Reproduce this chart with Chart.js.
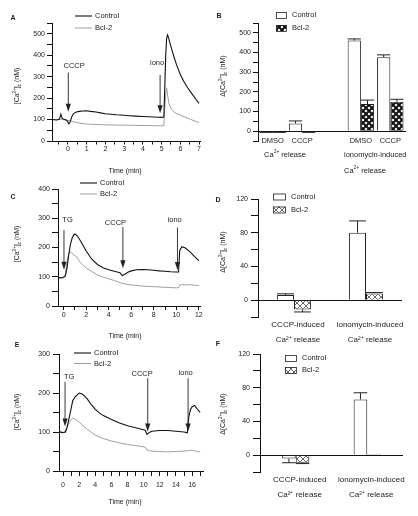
<!DOCTYPE html>
<html lang="en">
<head>
<meta charset="UTF-8">
<title>Ca2+ release, Control vs Bcl-2</title>
<script src="https://cdn.jsdelivr.net/npm/chart.js"></script>
<style>
  body { margin: 0; background: #fff; }
  canvas { position: absolute; left: 0; top: 0; }
</style>
</head>
<body>
<canvas id="cA" width="418" height="516"></canvas>
<canvas id="cB" width="418" height="516"></canvas>
<canvas id="cC" width="418" height="516"></canvas>
<canvas id="cD" width="418" height="516"></canvas>
<canvas id="cE" width="418" height="516"></canvas>
<canvas id="cF" width="418" height="516"></canvas>
<script>
// ---- data ----
// A: CCCP then ionomycin
var timeA = [-0.85, -0.6, -0.45, -0.38, -0.3, -0.2, -0.05, 0.05, 0.12, 0.2, 0.3, 0.45, 0.6, 0.8, 1.0, 1.2, 1.5, 1.8, 2.0, 2.3, 2.6, 3.0, 3.3, 3.6, 4.0, 4.3, 4.6, 4.8, 5.0, 5.12, 5.17, 5.22, 5.27, 5.32, 5.38, 5.45, 5.55, 5.65, 5.8, 6.0, 6.2, 6.4, 6.6, 6.8, 7.0];
var controlA = [100, 98, 102, 125, 104, 101, 96, 80, 90, 112, 128, 135, 138, 140, 141, 138, 135, 130, 127, 125, 122, 120, 118, 116, 114, 113, 112, 111, 110, 112, 250, 400, 480, 495, 478, 455, 425, 395, 355, 310, 275, 247, 222, 198, 175];
var bcl2A = [100, 99, 101, 102, 100, 99, 97, 95, 94, 92, 90, 87, 84, 81, 79, 78, 77, 76, 75, 75, 74, 74, 73, 73, 72, 72, 71, 71, 71, 71, 150, 215, 248, 215, 180, 160, 146, 137, 128, 120, 113, 106, 99, 92, 86];

// C: TG, CCCP, ionomycin
var timeC = [-0.5, -0.2, 0, 0.15, 0.3, 0.45, 0.6, 0.75, 0.9, 1.0, 1.15, 1.3, 1.5, 1.75, 2.0, 2.5, 3.0, 3.5, 4.0, 4.5, 5.0, 5.2, 5.4, 5.7, 6.0, 6.5, 7.0, 7.5, 8.0, 8.5, 9.0, 9.5, 10.0, 10.2, 10.3, 10.5, 10.8, 11.2, 11.6, 12.0];
var controlC = [97, 96, 98, 102, 130, 175, 210, 232, 243, 246, 242, 235, 222, 205, 188, 160, 142, 131, 124, 119, 114, 104, 108, 115, 120, 124, 125, 124, 122, 120, 119, 117, 116, 116, 190, 203, 198, 186, 170, 155];
var bcl2C = [98, 97, 99, 108, 150, 178, 185, 180, 175, 172, 168, 160, 148, 138, 130, 118, 106, 99, 93, 87, 80, 77, 76, 74, 72, 70, 68, 67, 66, 65, 64, 63, 62, 63, 72, 73, 72, 73, 71, 70];

// E: TG, CCCP, ionomycin (longer run)
var timeE = [-0.5, -0.2, 0, 0.3, 0.5, 0.8, 1.0, 1.2, 1.5, 1.8, 2.0, 2.3, 2.6, 3.0, 3.5, 4.0, 4.5, 5.0, 6.0, 7.0, 8.0, 9.0, 10.0, 10.2, 10.4, 10.7, 11.0, 12.0, 13.0, 14.0, 15.0, 15.4, 15.6, 15.8, 16.0, 16.3, 16.6, 17.0];
var controlE = [101, 99, 98, 100, 112, 140, 160, 180, 190, 196, 200, 198, 194, 185, 170, 158, 149, 142, 132, 123, 116, 111, 106, 104, 94, 99, 102, 104, 104, 102, 100, 98, 140, 158, 165, 168, 160, 150];
var bcl2E = [100, 100, 99, 103, 112, 126, 132, 135, 133, 129, 125, 120, 114, 107, 99, 92, 87, 83, 77, 72, 68, 65, 62, 61, 54, 52, 51, 50, 49, 50, 51, 52, 52, 53, 53, 52, 50, 49];

// B: delta [Ca2+]c
var labelsB = ['DMSO', 'CCCP', '', 'DMSO', 'CCCP'];
var controlB = [-3, 39, null, 461, 376];
var controlBErr = [-6, 52, null, 469, 388];
var bcl2B = [-3, -3, null, 138, 150];
var bcl2BErr = [-6, -6, null, 158, 162];

// D and F
var labelsDF = [['CCCP-induced', 'Ca\u00b2\u207a release'], ['ionomycin-induced', 'Ca\u00b2\u207a release']];
var controlD = [6, 80];
var controlDErr = [7.5, 94];
var bcl2D = [-11, 8];
var bcl2DErr = [-14, 9];
var controlF = [-4, 66];
var controlFErr = [-9, 74];
var bcl2F = [-9, 1];
var bcl2FErr = [-10, null];

// ---- styling ----
var FONT = '"Liberation Sans", Arial, Helvetica, sans-serif';
Chart.defaults.font.family = FONT;
Chart.defaults.font.size = 7;
Chart.defaults.color = '#222';

var CA_TITLE = [['[Ca', 0], ['2+', 1], [']', 0], ['c', -1], [' (nM)', 0]];
var DCA_TITLE = [['\u0394[Ca', 0], ['2+', 1], [']', 0], ['c', -1], [' (nM)', 0]];
var RELEASE = [['Ca', 0], ['2+', 1], [' release', 0]];

function hatch(fg, lw) {
  var c = document.createElement('canvas');
  c.width = 6; c.height = 6;
  var g = c.getContext('2d');
  g.fillStyle = '#fff';
  g.fillRect(0, 0, 6, 6);
  g.strokeStyle = fg;
  g.lineWidth = lw;
  g.beginPath();
  g.moveTo(-1, -1); g.lineTo(7, 7);
  g.moveTo(7, -1); g.lineTo(-1, 7);
  g.stroke();
  return g.createPattern(c, 'repeat');
}
var darkHatch = hatch('#111', 2);
var lightHatch = hatch('#666', 1);

// rich text with super/subscripts, parts = [[text, level]]
function drawRich(ctx, parts, x, y, size, align, rotate) {
  ctx.save();
  ctx.translate(x, y);
  if (rotate) ctx.rotate(-Math.PI / 2);
  ctx.textBaseline = 'middle';
  ctx.textAlign = 'left';
  ctx.fillStyle = '#222';
  var w = 0;
  parts.forEach(function (p) {
    ctx.font = (p[1] ? size * 0.65 : size) + 'px ' + FONT;
    w += ctx.measureText(p[0]).width;
  });
  var cx = align === 'left' ? 0 : -w / 2;
  parts.forEach(function (p) {
    ctx.font = (p[1] ? size * 0.65 : size) + 'px ' + FONT;
    ctx.fillText(p[0], cx, -p[1] * size * 0.38);
    cx += ctx.measureText(p[0]).width;
  });
  ctx.restore();
}

// decorations per panel (page pixel positions; arrows in data units)
var DECOR = {
  cA: {
    letter: ['A', 13, 18], yTitle: [CA_TITLE, 17, 86], xTitle: [125, 171],
    lineLegend: [75, 16, 12],
    arrows: [{ t: 0.02, from: 319, to: 136, label: 'CCCP', lt: 0.33, ly: 350 },
             { t: 4.92, from: 308, to: 129, label: 'iono', lt: 4.76, ly: 363 }]
  },
  cC: {
    letter: ['C', 13, 197], yTitle: [CA_TITLE, 17, 244], xTitle: [125, 336],
    lineLegend: [80, 183, 11],
    arrows: [{ t: 0.03, from: 260, to: 124, label: 'TG', lt: 0.35, ly: 294 },
             { t: 5.26, from: 270, to: 129, label: 'CCCP', lt: 4.6, ly: 285 },
             { t: 10.1, from: 268, to: 123, label: 'iono', lt: 9.85, ly: 294 }]
  },
  cE: {
    letter: ['E', 17, 345], yTitle: [CA_TITLE, 17, 412], xTitle: [125, 502],
    lineLegend: [74, 353, 10.5],
    arrows: [{ t: 0.25, from: 229, to: 114, label: 'TG', lt: 0.75, ly: 242 },
             { t: 10.5, from: 238, to: 101, label: 'CCCP', lt: 9.8, ly: 250 },
             { t: 15.5, from: 238, to: 101, label: 'iono', lt: 15.2, ly: 252 }]
  },
  cB: {
    letter: ['B', 219, 16], yTitle: [DCA_TITLE, 223, 76],
    boxLegend: [276, 15, 13, 10, 6, darkHatch],
    texts: [[RELEASE, 285, 155, 'center'], [[['ionomycin-induced', 0]], 344, 155, 'left'], [RELEASE, 344, 171, 'left']]
  },
  cD: {
    letter: ['D', 218, 200], yTitle: [DCA_TITLE, 223, 252],
    boxLegend: [273, 196.5, 13, 12, 6, lightHatch]
  },
  cF: {
    letter: ['F', 218, 344], yTitle: [DCA_TITLE, 223, 414],
    boxLegend: [285, 358, 12, 11, 6, lightHatch]
  }
};

var decorPlugin = {
  id: 'decor',
  afterDatasetsDraw: function (chart) {
    var ctx = chart.ctx, ys = chart.scales.y;
    chart.data.datasets.forEach(function (ds, i) {
      if (!ds.errors) return;
      chart.getDatasetMeta(i).data.forEach(function (bar, j) {
        var e = ds.errors[j];
        if (e === null || e === undefined || ds.data[j] === null) return;
        var ye = ys.getPixelForValue(e), hw = bar.width / 2;
        ctx.save();
        ctx.strokeStyle = '#222';
        ctx.lineWidth = 1;
        ctx.beginPath();
        ctx.moveTo(bar.x, bar.y); ctx.lineTo(bar.x, ye);
        ctx.moveTo(bar.x - hw, ye); ctx.lineTo(bar.x + hw, ye);
        ctx.stroke();
        ctx.restore();
      });
    });
  },
  afterDraw: function (chart) {
    var d = DECOR[chart.canvas.id], ctx = chart.ctx;
    var xs = chart.scales.x, ys = chart.scales.y;
    ctx.save();
    ctx.fillStyle = '#222';
    ctx.textBaseline = 'middle';
    ctx.textAlign = 'center';
    ctx.font = 'bold 7px ' + FONT;
    ctx.fillText(d.letter[0], d.letter[1], d.letter[2]);
    drawRich(ctx, d.yTitle[0], d.yTitle[1], d.yTitle[2], 7, 'center', true);
    if (d.xTitle) drawRich(ctx, [['Time (min)', 0]], d.xTitle[0], d.xTitle[1], 7, 'center', false);

    var names = chart.data.datasets.map(function (ds) { return ds.label; });
    if (d.lineLegend) {
      var lx = d.lineLegend[0], ly = d.lineLegend[1], dy = d.lineLegend[2];
      chart.data.datasets.forEach(function (ds, i) {
        ctx.strokeStyle = ds.borderColor;
        ctx.lineWidth = ds.borderWidth;
        ctx.beginPath();
        ctx.moveTo(lx, ly + i * dy); ctx.lineTo(lx + 17, ly + i * dy);
        ctx.stroke();
        drawRich(ctx, [[names[i], 0]], lx + 20, ly + i * dy, 7.5, 'left', false);
      });
    }
    if (d.boxLegend) {
      var b = d.boxLegend;
      [0, 1].forEach(function (i) {
        var cy = b[1] + i * b[2];
        ctx.fillStyle = i === 0 ? '#fff' : b[5];
        ctx.fillRect(b[0], cy - b[4] / 2, b[3], b[4]);
        ctx.strokeStyle = '#222';
        ctx.lineWidth = 0.8;
        ctx.strokeRect(b[0] + 0.5, cy - b[4] / 2 + 0.5, b[3], b[4]);
        drawRich(ctx, [[names[i], 0]], b[0] + b[3] + 6, cy, 7.5, 'left', false);
      });
    }
    (d.arrows || []).forEach(function (a) {
      var x = xs.getPixelForValue(a.t), y1 = ys.getPixelForValue(a.from), y2 = ys.getPixelForValue(a.to);
      ctx.strokeStyle = '#222';
      ctx.fillStyle = '#222';
      ctx.lineWidth = 0.9;
      ctx.beginPath();
      ctx.moveTo(x, y1); ctx.lineTo(x, y2 - 6);
      ctx.stroke();
      ctx.beginPath();
      ctx.moveTo(x - 2.6, y2 - 8); ctx.lineTo(x + 2.6, y2 - 8); ctx.lineTo(x, y2);
      ctx.closePath();
      ctx.fill();
      drawRich(ctx, [[a.label, 0]], xs.getPixelForValue(a.lt), ys.getPixelForValue(a.ly), 7.5, 'center', false);
    });
    (d.texts || []).forEach(function (t) {
      drawRich(ctx, t[0], t[1], t[2], 7.5, t[3], false);
    });
    ctx.restore();
  }
};

function intLabel(every, nonNeg) {
  return function (v) {
    if (nonNeg && v < 0) return '';
    return Math.abs(v % every) < 1e-6 ? v : '';
  };
}

function makeLine(id, box, times, ctrl, bcl, xo, yo) {
  function pts(v) { return times.map(function (t, i) { return { x: t, y: v[i] }; }); }
  return new Chart(document.getElementById(id), {
    type: 'line',
    data: {
      datasets: [
        { label: 'Control', data: pts(ctrl), borderColor: '#111', borderWidth: 1.1, pointRadius: 0, tension: 0 },
        { label: 'Bcl-2', data: pts(bcl), borderColor: '#9e9e9e', borderWidth: 1, pointRadius: 0, tension: 0 }
      ]
    },
    options: {
      responsive: false,
      animation: false,
      events: [],
      layout: { padding: { left: box[0] - 30, top: box[1], right: 418 - box[2], bottom: 516 - box[3] - 16 } },
      plugins: { legend: { display: false }, tooltip: { enabled: false } },
      scales: {
        x: {
          type: 'linear', min: xo.min, max: xo.max,
          afterFit: function (s) { s.height = 16; },
          border: { color: '#111', width: 1 },
          grid: { drawOnChartArea: false, tickLength: xo.tick, color: '#111' },
          ticks: { stepSize: xo.step, includeBounds: false, autoSkip: false, maxRotation: 0,
                   padding: xo.pad, callback: intLabel(xo.every) }
        },
        y: {
          min: yo.min, max: yo.max,
          afterFit: function (s) { s.width = 30; },
          border: { color: '#111', width: 1 },
          grid: { drawOnChartArea: false, tickLength: yo.tick, color: '#111' },
          ticks: { stepSize: yo.step, autoSkip: false, padding: yo.pad, callback: intLabel(yo.every) }
        }
      }
    },
    plugins: [decorPlugin]
  });
}

// B keeps its category axis on the zero line; D and F put the labels under the plot
// and let the y grid draw only the zero line.
function makeBar(id, box, labels, ctrl, ctrlErr, bcl, bclErr, pattern, xo, yo) {
  var onZero = xo.onZero;
  var xScale = {
    position: onZero ? { y: 0 } : 'bottom',
    border: { display: onZero, color: '#111', width: 1 },
    grid: { display: false, drawTicks: false, tickLength: 0 },
    ticks: { autoSkip: false, maxRotation: 0, padding: xo.pad, labelOffset: xo.offset,
             font: { size: xo.size, lineHeight: xo.lh } }
  };
  if (!onZero) xScale.afterFit = function (s) { s.height = 40; };
  return new Chart(document.getElementById(id), {
    type: 'bar',
    data: {
      labels: labels,
      datasets: [
        { label: 'Control', data: ctrl, errors: ctrlErr, backgroundColor: '#fff', borderColor: '#222', borderWidth: 1 },
        { label: 'Bcl-2', data: bcl, errors: bclErr, backgroundColor: pattern, borderColor: '#222', borderWidth: 1 }
      ]
    },
    options: {
      responsive: false,
      animation: false,
      events: [],
      categoryPercentage: xo.cat,
      barPercentage: 1,
      layout: { padding: { left: box[0] - 30, top: box[1], right: 418 - box[2], bottom: 516 - box[3] - (onZero ? 0 : 40) } },
      plugins: { legend: { display: false }, tooltip: { enabled: false } },
      scales: {
        x: xScale,
        y: {
          min: yo.min, max: yo.max,
          afterFit: function (s) { s.width = 30; },
          border: { color: '#111', width: 1 },
          grid: {
            drawOnChartArea: !onZero, tickLength: yo.tick, tickColor: '#111',
            color: function (c) { return onZero || (c.tick && c.tick.value === 0) ? '#111' : 'rgba(0,0,0,0)'; }
          },
          ticks: { stepSize: yo.step, autoSkip: false, padding: yo.pad, callback: intLabel(yo.every, true) }
        }
      }
    },
    plugins: [decorPlugin]
  });
}

makeLine('cA', [52, 23, 200, 141], timeA, controlA, bcl2A,
  { min: -0.85, max: 7.05, step: 0.5, every: 1, tick: 3.5, pad: 0 },
  { min: 0, max: 550, step: 50, every: 100, tick: 5, pad: 2 });
makeLine('cC', [58, 189, 200, 306], timeC, controlC, bcl2C,
  { min: -0.5, max: 12.1, step: 1, every: 2, tick: 4, pad: 1 },
  { min: 0, max: 400, step: 50, every: 100, tick: 6, pad: 2 });
makeLine('cE', [59, 354, 203, 471], timeE, controlE, bcl2E,
  { min: -0.5, max: 17.35, step: 1, every: 2, tick: 5, pad: 5 },
  { min: 0, max: 300, step: 50, every: 100, tick: 6, pad: 3 });

makeBar('cB', [258, 23, 405, 141], labelsB, controlB, controlBErr, bcl2B, bcl2BErr, darkHatch,
  { onZero: true, cat: 0.9, pad: 5.6, offset: 0, size: 7.5, lh: 1.2 },
  { min: -50, max: 550, step: 50, every: 100, tick: 5, pad: 2 });
makeBar('cD', [258, 199, 402, 317], labelsDF, controlD, controlDErr, bcl2D, bcl2DErr, lightHatch,
  { onZero: false, cat: 0.47, pad: 0, offset: 4, size: 8, lh: 1.875 },
  { min: -20, max: 120, step: 20, every: 40, tick: 7, pad: 3 });
makeBar('cF', [260, 354, 403, 472], labelsDF, controlF, controlFErr, bcl2F, bcl2FErr, lightHatch,
  { onZero: false, cat: 0.38, pad: 0, offset: 4, size: 8, lh: 1.875 },
  { min: -20, max: 120, step: 20, every: 40, tick: 7, pad: 3 });
</script>
</body>
</html>
